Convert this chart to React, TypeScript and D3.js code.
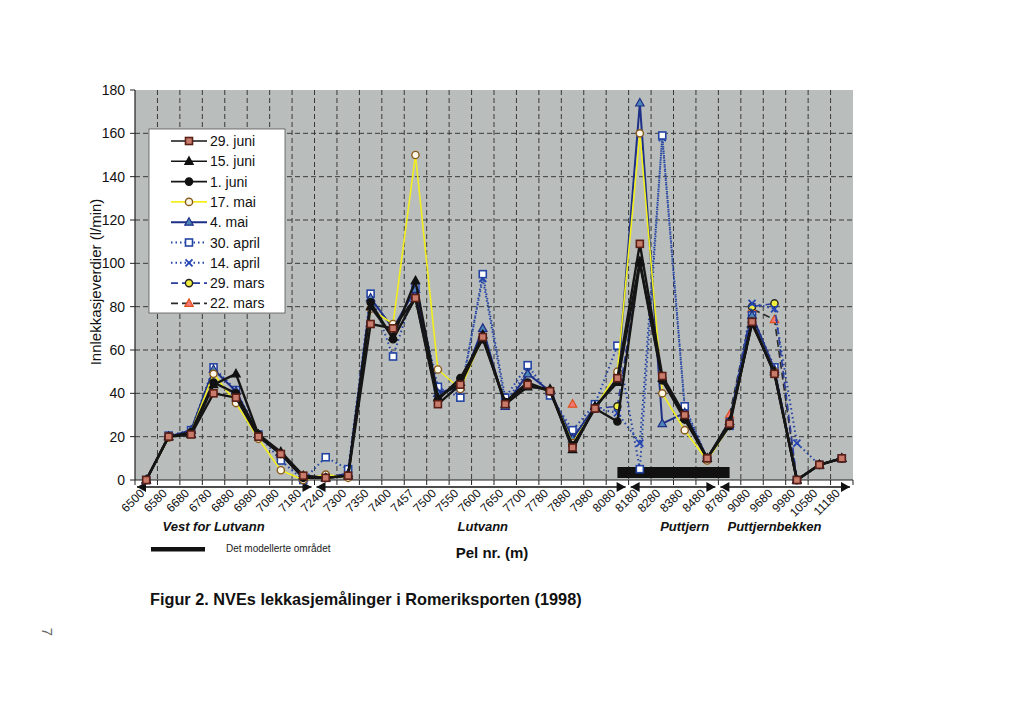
import React from 'react';
import * as d3 from 'd3';

// Pel nr. (m) along the tunnel
const pelNr = [
  '6500', '6580', '6680', '6780', '6880', '6980', '7080', '7180', '7240', '7300',
  '7350', '7400', '7457', '7500', '7550', '7600', '7650', '7700', '7780', '7880',
  '7980', '8080', '8180', '8280', '8380', '8480', '8780', '9080', '9680', '9980',
  '10580', '11180',
];

const yTicks = [0, 20, 40, 60, 80, 100, 120, 140, 160, 180];

// leakage values (l/min), null = not measured
const juni29 = [0, 20, 21, 40, 38, 20, 12, 2, 1, 2, 72, 70, 84, 35, 44, 66, 35, 44, 41, 15, 33, 47, 109, 48, 30, 10, 26, 73, 49, 0, 7, 10];
const juni15 = [0, 20, 21, 44, 49, 21, 13, 2, 1, 2, 80, 66, 92, 38, 45, 67, 35, 43, 42, 14, 34, 45, 101, 47, 29, 10, 27, 72, 50, 0, 7, 10];
const juni1 = [0, 20, 22, 45, 40, 21, 12, 1, 1, 2, 82, 65, 84, 37, 47, 65, 36, 45, 41, 16, 33, 27, 100, 46, 28, 10, 25, 73, 49, 0, 7, 10];
const mai17 = [0, 19.5, 22, 49, 35.5, 19, 4.5, 0, 2.5, 1, 79, 72, 150, 51, 42, 66, 36, 44, 41, 17, 33, 50, 160, 40, 23, 9, 25, 73, 50, 0, 7, 10];
const mai4 = [0, 20, 23, 51, 41, 21, 12, 1, 1, 3, 84, 70, 88, 40, 43, 70, 34, 49, 41, 19, 34, 45, 174, 26, 31, 10, 26, 76, 51, 0, 7, 10];
const april30 = [0, 20.5, 23, 52, 41.5, 21, 9, 0, 10.5, 5, 86, 57, 89, 43, 38, 95, 38, 53, 39, 23, 35, 62, 5, 159, 34, 10, 25, 76, 52, 0, 7, 10];
const april14 = [null, null, null, null, null, null, null, null, null, null, null, null, null, 42, 40, 93, 36, 50, 40, 20, 33, 31, 17, 158, 33, 10, 27, 81.5, 79, 17, 7, 10];
const mars29 = [null, null, null, null, null, null, null, null, null, null, null, null, null, null, null, null, null, null, null, null, 33, 34, 100, 47, 28, 10, 27, 80, 81.5, 0, 7, 10];
const mars22 = [null, null, null, null, null, null, null, null, null, null, null, null, null, null, null, null, null, null, null, 35, null, null, null, null, null, null, 30, 79, 74, 0, 7, 10];

// stretches along the tunnel (index of first and last pel)
const stretches = [
  { name: 'Vest for Lutvann', from: 0, to: 7, labelAt: 3 },
  { name: 'Lutvann', from: 8, to: 21, labelAt: 15 },
  { name: 'Puttjern', from: 22, to: 25, labelAt: 24 },
  { name: 'Puttjernbekken', from: 26, to: 31, labelAt: 28 },
];
// modelled area: 8080 -> 8780
const modelled = ['8080', '8780'];

type Marker = 'square' | 'triangle' | 'circle' | 'x';
type Series = {
  name: string;
  values: (number | null)[];
  color: string;
  width: number;
  dash?: string;
  marker: Marker;
  fill: string;
  mstroke: string;
};

const series: Series[] = [
  { name: '29. juni', values: juni29, color: '#151515', width: 2.4, marker: 'square', fill: '#c97c6c', mstroke: '#5a1f17' },
  { name: '15. juni', values: juni15, color: '#151515', width: 2.4, marker: 'triangle', fill: '#111', mstroke: '#111' },
  { name: '1. juni', values: juni1, color: '#151515', width: 2.4, marker: 'circle', fill: '#111', mstroke: '#111' },
  { name: '17. mai', values: mai17, color: '#f2ef1c', width: 1.6, marker: 'circle', fill: '#fbf8e8', mstroke: '#8a5a1c' },
  { name: '4. mai', values: mai4, color: '#1d2f86', width: 2, marker: 'triangle', fill: '#4f86b8', mstroke: '#1d2f86' },
  { name: '30. april', values: april30, color: '#2444a4', width: 2, dash: '1.5,3', marker: 'square', fill: '#ffffff', mstroke: '#2444a4' },
  { name: '14. april', values: april14, color: '#2444a4', width: 2, dash: '1.5,3', marker: 'x', fill: 'none', mstroke: '#2444b4' },
  { name: '29. mars', values: mars29, color: '#2a3c9c', width: 1.6, dash: '7,4', marker: 'circle', fill: '#f0ee40', mstroke: '#222' },
  { name: '22. mars', values: mars22, color: '#2a2a2a', width: 1.6, dash: '7,4', marker: 'triangle', fill: '#f07a7a', mstroke: '#e0501c' },
];

const W = 1024;
const H = 712;
const left = 135;
const right = 853;
const top = 90;
const bottom = 480;
const font = 'Arial, "Liberation Sans", sans-serif';

function drawMarker(m: Marker, x: number, y: number, fill: string, stroke: string, key?: string) {
  if (m === 'square') {
    return <rect key={key} x={x - 3.5} y={y - 3.5} width={7} height={7} fill={fill} stroke={stroke} strokeWidth={1.6} />;
  }
  if (m === 'triangle') {
    return <path key={key} d={`M${x},${y - 4.5}L${x + 4.2},${y + 3}L${x - 4.2},${y + 3}Z`} fill={fill} stroke={stroke} strokeWidth={1.2} />;
  }
  if (m === 'circle') {
    return <circle key={key} cx={x} cy={y} r={3.6} fill={fill} stroke={stroke} strokeWidth={1.4} />;
  }
  return (
    <path key={key} d={`M${x - 3.5},${y - 3.5}L${x + 3.5},${y + 3.5}M${x + 3.5},${y - 3.5}L${x - 3.5},${y + 3.5}`} stroke={stroke} strokeWidth={1.8} fill="none" />
  );
}

function arrowHead(x: number, y: number, dir: number, key: string) {
  // dir = 1 points right, -1 points left; tip at x
  return <path key={key} d={`M${x},${y}L${x - dir * 9},${y - 5}L${x - dir * 9},${y + 5}Z`} fill="#111" />;
}

export default function App() {
  const x = d3.scaleBand<string>().domain(pelNr).range([left, right]);
  const bw = x.bandwidth();
  const cx = (i: number) => (x(pelNr[i]) as number) + bw / 2;
  const y = d3.scaleLinear().domain([0, 180]).range([bottom, top]);

  const line = d3
    .line<number | null>()
    .defined((d) => d !== null)
    .x((_, i) => cx(i))
    .y((d) => y(d as number));

  const drawOrder = [...series].reverse();
  const boundaries = d3.range(1, pelNr.length).map((i) => x(pelNr[i]) as number);
  const arrowY = 487;

  const legendX = 149;
  const legendY = 129;
  const rowH = 20.3;

  return (
    <svg width={W} height={H} style={{ position: 'absolute', left: 0, top: 0, background: '#fff' }} fontFamily={font}>
      {/* plot area */}
      <rect x={left} y={top} width={right - left} height={bottom - top} fill="#b9bdbc" />
      {yTicks.filter((t) => t > 0 && t < 180).map((t) => (
        <line key={'hg' + t} x1={left} x2={right} y1={y(t)} y2={y(t)} stroke="#3a3a3a" strokeWidth={1} strokeDasharray="5,3" />
      ))}
      {boundaries.map((bx, i) => (
        <line key={'vg' + i} x1={bx} x2={bx} y1={top} y2={bottom} stroke="#3a3a3a" strokeWidth={1} strokeDasharray="5,3" />
      ))}

      {/* modelled area bar */}
      <rect
        x={cx(pelNr.indexOf(modelled[0]))}
        y={bottom - 13}
        width={cx(pelNr.indexOf(modelled[1])) - cx(pelNr.indexOf(modelled[0]))}
        height={11}
        fill="#111"
      />

      {/* axes */}
      <line x1={left} x2={left} y1={top} y2={bottom} stroke="#222" strokeWidth={1.2} />
      <line x1={left} x2={right} y1={bottom} y2={bottom} stroke="#222" strokeWidth={1.2} />
      {yTicks.map((t) => (
        <g key={'yt' + t}>
          <line x1={left - 5} x2={left} y1={y(t)} y2={y(t)} stroke="#222" />
          <text x={left - 10} y={y(t)} dy="0.36em" textAnchor="end" fontSize={14} fill="#111">
            {t}
          </text>
        </g>
      ))}
      {[left, ...boundaries, right].map((bx, i) => (
        <line key={'xt' + i} x1={bx} x2={bx} y1={bottom} y2={bottom + 5} stroke="#222" />
      ))}
      {pelNr.map((p, i) => (
        <text
          key={'xl' + p}
          transform={`translate(${cx(i) - 1},${bottom + 14}) rotate(-45)`}
          textAnchor="end"
          fontSize={12}
          fill="#111"
        >
          {p}
        </text>
      ))}

      {/* stretch arrows */}
      {stretches.map((s, k) => {
        const x0 = (x(pelNr[s.from]) as number) + 2;
        const x1 = (x(pelNr[s.to]) as number) + bw - 3;
        return (
          <g key={'st' + k}>
            <line x1={x0} x2={x1} y1={arrowY} y2={arrowY} stroke="#111" strokeWidth={1.3} />
            {arrowHead(x0, arrowY, -1, 'a' + k)}
            {arrowHead(x1, arrowY, 1, 'b' + k)}
            <text x={cx(s.labelAt)} y={531} textAnchor="middle" fontSize={13} fontWeight="bold" fontStyle="italic" fill="#111">
              {s.name}
            </text>
          </g>
        );
      })}

      {/* series */}
      {drawOrder.map((s) => (
        <g key={s.name}>
          <path d={line(s.values) || ''} fill="none" stroke={s.color} strokeWidth={s.width} strokeDasharray={s.dash} strokeLinejoin="round" />
          {s.values.map((v, i) => (v === null ? null : drawMarker(s.marker, cx(i), y(v), s.fill, s.mstroke, s.name + i)))}
        </g>
      ))}

      {/* legend */}
      <rect x={legendX} y={legendY} width={136} height={184} fill="#fff" stroke="#555" strokeWidth={0.8} />
      {series.map((s, k) => {
        const ly = legendY + 12 + k * rowH;
        return (
          <g key={'lg' + s.name}>
            <line x1={171} x2={207} y1={ly} y2={ly} stroke={s.color} strokeWidth={s.width > 2 ? 1.6 : s.width} strokeDasharray={s.dash} />
            {drawMarker(s.marker, 189, ly, s.fill, s.mstroke)}
            <text x={210} y={ly} dy="0.36em" fontSize={14} fill="#111">
              {s.name}
            </text>
          </g>
        );
      })}

      {/* axis titles */}
      <text transform={`translate(101,${(top + bottom) / 2 - 3}) rotate(-90)`} textAnchor="middle" fontSize={15} fill="#111">
        Innlekkasjeverdier (l/min)
      </text>
      <text x={492} y={558} textAnchor="middle" fontSize={15} fontWeight="bold" fill="#111">
        Pel nr. (m)
      </text>

      {/* modelled area key */}
      <rect x={151} y={547} width={54} height={4.5} fill="#111" />
      <text x={226} y={552} fontSize={10} fill="#222">
        Det modellerte området
      </text>

      <text x={150} y={605} fontSize={16.3} fontWeight="bold" fill="#111">
        Figur 2. NVEs lekkasjemålinger i Romeriksporten (1998)
      </text>

      <text transform="translate(42,632) rotate(90)" textAnchor="middle" fontSize={15} fill="#666">
        7
      </text>
    </svg>
  );
}
